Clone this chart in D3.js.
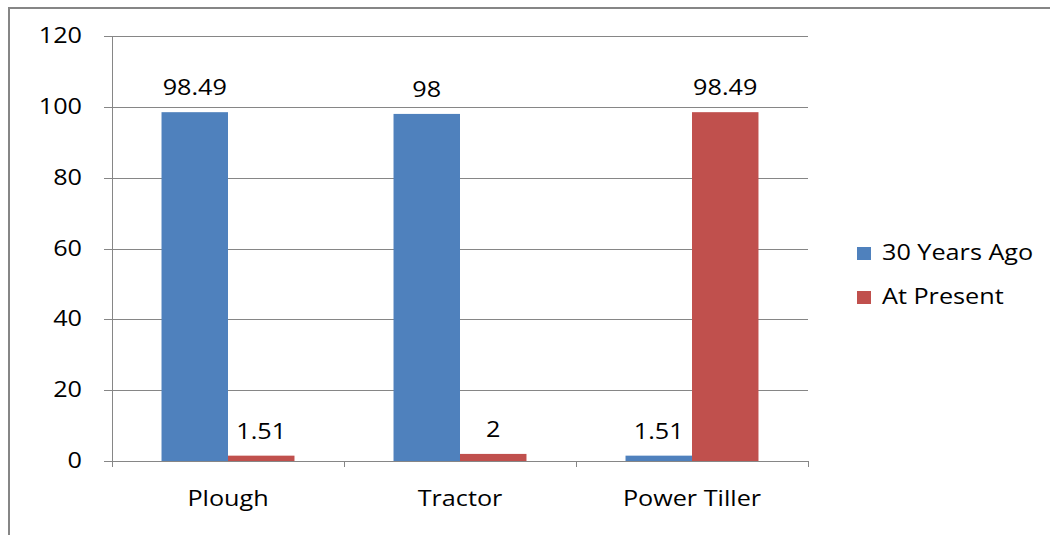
<!DOCTYPE html>
<html>
<head>
<meta charset="utf-8">
<script src="https://cdn.jsdelivr.net/npm/d3@7/dist/d3.min.js"></script>
<style>
  html, body { margin: 0; padding: 0; background: #fff; }
  svg { display: block; }
</style>
</head>
<body>
<svg id="chart" width="1050" height="535"></svg>
<script>
// Implement usage: share of farmers using each implement
const categories = ["Plough", "Tractor", "Power Tiller"];
const seriesNames = ["30 Years Ago", "At Present"];
const yearsAgo = [98.49, 98, 1.51];
const atPresent = [1.51, 2, 98.49];
const yTicks = [0, 20, 40, 60, 80, 100, 120];
const colors = ["#4F81BD", "#C0504D"];

const seriesValues = [yearsAgo, atPresent];
const rows = categories.map((c, i) => ({
  category: c,
  values: seriesNames.map((s, j) => ({ series: s, value: seriesValues[j][i] }))
}));

const svg = d3.select("#chart");
const FONT = "'Open Sans', 'Liberation Sans', sans-serif";
const FS = 21;
const SX = 1.2; // horizontal stretch of the lettering

function label(g, x, yPos, text, anchor) {
  return g.append("text")
    .attr("transform", `translate(${x},${yPos}) scale(${SX},1)`)
    .attr("text-anchor", anchor || "middle")
    .attr("font-family", FONT)
    .attr("font-size", FS)
    .attr("fill", "#000")
    .text(text);
}

// outer frame
svg.append("rect")
  .attr("x", 9).attr("y", 8)
  .attr("width", 1100).attr("height", 600)
  .attr("fill", "none")
  .attr("stroke", "#868686")
  .attr("stroke-width", 2);

const plotLeft = 112, plotRight = 808, plotTop = 36, plotBottom = 461;

const x0 = d3.scaleBand().domain(categories).range([plotLeft, plotRight]).padding(0);
const x1 = d3.scaleBand().domain(seriesNames).range([0, x0.bandwidth()])
  .paddingInner(0).paddingOuter(0.745);
const y = d3.scaleLinear().domain([0, 120]).range([plotBottom, plotTop]);

// gridlines
svg.append("g")
  .selectAll("line")
  .data(yTicks)
  .join("line")
  .attr("x1", plotLeft - 8).attr("x2", plotRight)
  .attr("y1", d => Math.round(y(d)) + 0.5)
  .attr("y2", d => Math.round(y(d)) + 0.5)
  .attr("stroke", "#868686")
  .attr("stroke-width", 1);

// y axis line
svg.append("line")
  .attr("x1", plotLeft + 0.5).attr("x2", plotLeft + 0.5)
  .attr("y1", plotTop).attr("y2", plotBottom)
  .attr("stroke", "#868686");

// y tick labels
const yLab = svg.append("g");
yTicks.forEach(t => label(yLab, plotLeft - 30, y(t) + 7, t, "end"));

// bars
const groups = svg.append("g")
  .selectAll("g")
  .data(rows)
  .join("g")
  .attr("transform", d => `translate(${x0(d.category)},0)`);

groups.selectAll("rect")
  .data(d => d.values)
  .join("rect")
  .attr("x", d => x1(d.series))
  .attr("width", x1.bandwidth())
  .attr("y", d => y(d.value))
  .attr("height", d => y(0) - y(d.value))
  .attr("fill", (d, i) => colors[i]);

// value labels
groups.each(function (d) {
  const g = d3.select(this);
  d.values.forEach(v => {
    label(g, x1(v.series) + x1.bandwidth() / 2, y(v.value) - 17, v.value);
  });
});

// category axis
svg.append("line")
  .attr("x1", plotLeft).attr("x2", plotRight)
  .attr("y1", plotBottom + 0.5).attr("y2", plotBottom + 0.5)
  .attr("stroke", "#868686");

const catTicks = categories.map(c => x0(c)).concat([plotRight]);
svg.append("g")
  .selectAll("line")
  .data(catTicks)
  .join("line")
  .attr("x1", d => Math.round(d) + 0.5).attr("x2", d => Math.round(d) + 0.5)
  .attr("y1", plotBottom).attr("y2", plotBottom + 6)
  .attr("stroke", "#868686");

const xLab = svg.append("g");
categories.forEach(c => label(xLab, x0(c) + x0.bandwidth() / 2, 506, c));

// legend
const legend = svg.append("g");
seriesNames.forEach((s, i) => {
  const ly = 247 + i * 44;
  legend.append("rect")
    .attr("x", 857).attr("y", ly)
    .attr("width", 14).attr("height", 13)
    .attr("fill", colors[i]);
  label(legend, 882, ly + 13, s, "start");
});
</script>
</body>
</html>
